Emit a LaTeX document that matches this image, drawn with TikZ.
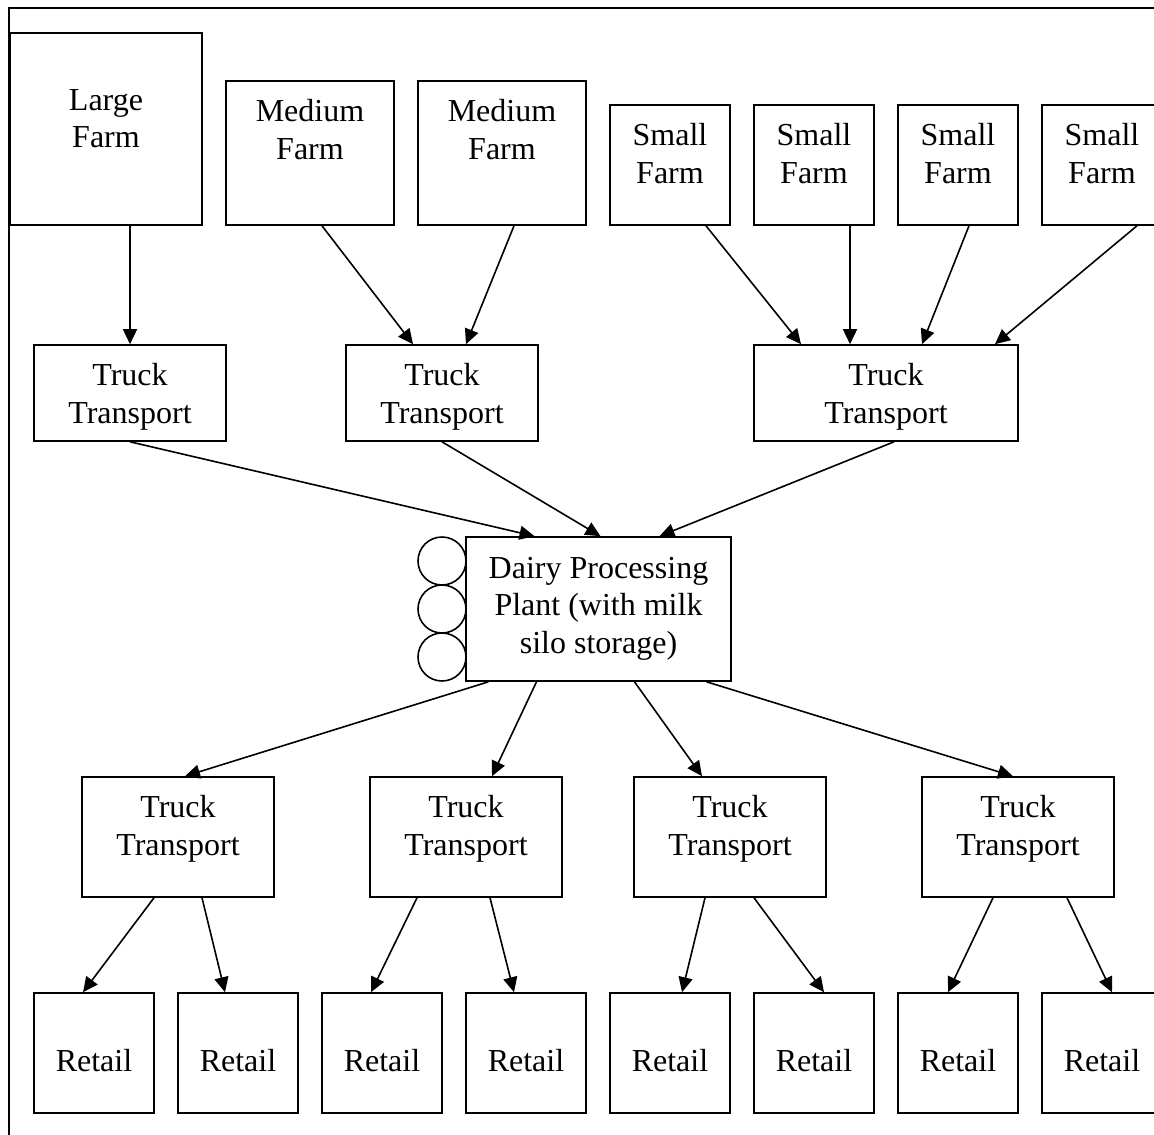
\documentclass[tikz,border=0pt]{standalone}
\usepackage{fontspec}
\setmainfont{Liberation Serif}
\usetikzlibrary{arrows.meta}

\begin{document}
\begin{tikzpicture}[x=1pt, y=-1pt, font=\fontsize{32}{37.5}\selectfont,
    box/.style={draw, line width=1.6pt, inner sep=0pt, fill=white},
    txt/.style={align=center, inner sep=0pt,
      execute at begin node=\strut, execute at end node=\strut},
    flow/.style={-{Triangle[length=15pt, width=14pt]}, line width=1.6pt}]

    \useasboundingbox (0,0) rectangle (1154,1135);
    \clip (0,0) rectangle (1154,1135);

    % outer frame, cut at the right and at the bottom
    \draw[line width=1.6pt] (1160,8) -| (9,1140);

    % farms
    \node[box, minimum width=192pt, minimum height=192pt] (largeFarm) at (106,129) {};
    \node[txt] (largeFarmTxt) at (106,124) {Large\\Farm};

    \node[box, minimum width=168pt, minimum height=144pt] (mediumFarmA) at (310,153) {};
    \node[txt] (mediumFarmATxt) at (310,135) {Medium\\Farm};
    \node[box, minimum width=168pt, minimum height=144pt] (mediumFarmB) at (502,153) {};
    \node[txt] (mediumFarmBTxt) at (502,135) {Medium\\Farm};

    \node[box, minimum width=120pt, minimum height=120pt] (smallFarmA) at (670,165) {};
    \node[txt] (smallFarmATxt) at (670,159) {Small\\Farm};
    \node[box, minimum width=120pt, minimum height=120pt] (smallFarmB) at (814,165) {};
    \node[txt] (smallFarmBTxt) at (814,159) {Small\\Farm};
    \node[box, minimum width=120pt, minimum height=120pt] (smallFarmC) at (958,165) {};
    \node[txt] (smallFarmCTxt) at (958,159) {Small\\Farm};
    \node[box, minimum width=120pt, minimum height=120pt] (smallFarmD) at (1102,165) {};
    \node[txt] (smallFarmDTxt) at (1102,159) {Small\\Farm};

    % trucks from the farms
    \node[box, minimum width=192pt, minimum height=96pt] (truckFarmA) at (130,393) {};
    \node[txt] (truckFarmATxt) at (130,399) {Truck\\Transport};
    \node[box, minimum width=192pt, minimum height=96pt] (truckFarmB) at (442,393) {};
    \node[txt] (truckFarmBTxt) at (442,399) {Truck\\Transport};
    \node[box, minimum width=264pt, minimum height=96pt] (truckFarmC) at (886,393) {};
    \node[txt] (truckFarmCTxt) at (886,399) {Truck\\Transport};

    % plant and its silos
    \node[box, circle, minimum size=48pt] (siloA) at (442,561) {};
    \node[box, circle, minimum size=48pt] (siloB) at (442,609) {};
    \node[box, circle, minimum size=48pt] (siloC) at (442,657) {};
    \node[box, minimum width=265pt, minimum height=144pt] (dairyPlant) at (598.5,609) {};
    \node[txt] (dairyPlantTxt) at (598.5,611)
      {Dairy Processing\\Plant (with milk\\silo storage)};

    % trucks to the shops
    \node[box, minimum width=192pt, minimum height=120pt] (truckRetailA) at (178,837) {};
    \node[txt] (truckRetailATxt) at (178,831) {Truck\\Transport};
    \node[box, minimum width=192pt, minimum height=120pt] (truckRetailB) at (466,837) {};
    \node[txt] (truckRetailBTxt) at (466,831) {Truck\\Transport};
    \node[box, minimum width=192pt, minimum height=120pt] (truckRetailC) at (730,837) {};
    \node[txt] (truckRetailCTxt) at (730,831) {Truck\\Transport};
    \node[box, minimum width=192pt, minimum height=120pt] (truckRetailD) at (1018,837) {};
    \node[txt] (truckRetailDTxt) at (1018,831) {Truck\\Transport};

    % shops
    \node[box, minimum width=120pt, minimum height=120pt] (retailA) at (94,1053) {};
    \node[txt] (retailATxt) at (94,1063.5) {Retail};
    \node[box, minimum width=120pt, minimum height=120pt] (retailB) at (238,1053) {};
    \node[txt] (retailBTxt) at (238,1063.5) {Retail};
    \node[box, minimum width=120pt, minimum height=120pt] (retailC) at (382,1053) {};
    \node[txt] (retailCTxt) at (382,1063.5) {Retail};
    \node[box, minimum width=120pt, minimum height=120pt] (retailD) at (526,1053) {};
    \node[txt] (retailDTxt) at (526,1063.5) {Retail};
    \node[box, minimum width=120pt, minimum height=120pt] (retailE) at (670,1053) {};
    \node[txt] (retailETxt) at (670,1063.5) {Retail};
    \node[box, minimum width=120pt, minimum height=120pt] (retailF) at (814,1053) {};
    \node[txt] (retailFTxt) at (814,1063.5) {Retail};
    \node[box, minimum width=120pt, minimum height=120pt] (retailG) at (958,1053) {};
    \node[txt] (retailGTxt) at (958,1063.5) {Retail};
    \node[box, minimum width=120pt, minimum height=120pt] (retailH) at (1102,1053) {};
    \node[txt] (retailHTxt) at (1102,1063.5) {Retail};

    \path[flow]
      ([xshift=24pt]largeFarm.south) edge (truckFarmA.north)
      ([xshift=12pt]mediumFarmA.south) edge ([xshift=-29pt]truckFarmB.north)
      ([xshift=12pt]mediumFarmB.south) edge ([xshift=24pt]truckFarmB.north);

    \path[flow]
      ([xshift=36pt]smallFarmA.south) edge ([xshift=-85pt]truckFarmC.north)
      ([xshift=36pt]smallFarmB.south) edge ([xshift=-36pt]truckFarmC.north)
      ([xshift=11pt]smallFarmC.south) edge ([xshift=36pt]truckFarmC.north)
      ([xshift=35pt]smallFarmD.south) edge ([xshift=109pt]truckFarmC.north);

    \path[flow]
      (truckFarmA.south) edge ([xshift=-64pt]dairyPlant.north)
      (truckFarmB.south) edge ([xshift=2pt]dairyPlant.north)
      ([xshift=8pt]truckFarmC.south) edge ([xshift=61pt]dairyPlant.north);

    \path[flow]
      ([xshift=-110pt]dairyPlant.south) edge ([xshift=7pt]truckRetailA.north)
      ([xshift=-62pt]dairyPlant.south) edge ([xshift=26pt]truckRetailB.north)
      ([xshift=36pt]dairyPlant.south) edge ([xshift=-28pt]truckRetailC.north)
      ([xshift=108pt]dairyPlant.south) edge ([xshift=-5pt]truckRetailD.north);

    \path[flow]
      ([xshift=-24pt]truckRetailA.south) edge ([xshift=-11pt]retailA.north)
      ([xshift=24pt]truckRetailA.south) edge ([xshift=-13pt]retailB.north)
      ([xshift=-49pt]truckRetailB.south) edge ([xshift=-11pt]retailC.north)
      ([xshift=24pt]truckRetailB.south) edge ([xshift=-12pt]retailD.north)
      ([xshift=-25pt]truckRetailC.south) edge ([xshift=12pt]retailE.north)
      ([xshift=24pt]truckRetailC.south) edge ([xshift=10pt]retailF.north)
      ([xshift=-25pt]truckRetailD.south) edge ([xshift=-10pt]retailG.north)
      ([xshift=49pt]truckRetailD.south) edge ([xshift=10pt]retailH.north);
\end{tikzpicture}
\end{document}
